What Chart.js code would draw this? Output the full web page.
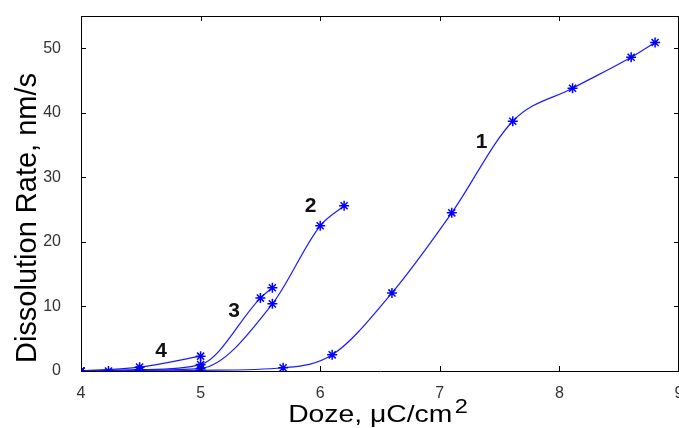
<!DOCTYPE html>
<html>
<head>
<meta charset="utf-8">
<script src="https://cdn.jsdelivr.net/npm/chart.js@4/dist/chart.umd.min.js"></script>
<style>
  html, body { margin: 0; padding: 0; background: #fff; }
  #wrap { width: 679px; height: 428px; }
</style>
</head>
<body>
<div id="wrap"><canvas id="c" width="679" height="428"></canvas></div>
<script>
// curve data (doze, rate)
var doze1 = [4, 4.23, 4.49, 5, 5.69, 6.1, 6.6, 7.1, 7.61, 8.11, 8.6, 8.8];
var rate1 = [0, 0, 0, 0.1, 0.5, 2.5, 12.1, 24.5, 38.7, 43.8, 48.6, 50.9];
var doze2 = [4, 4.49, 5, 5.6, 6.0, 6.2];
var rate2 = [0, 0.1, 0.4, 10.4, 22.5, 25.6];
var doze3 = [4, 4.49, 5, 5.5, 5.6];
var rate3 = [0, 0.2, 1.0, 11.3, 12.9];
var doze4 = [4, 4.49, 5];
var rate4 = [0, 0.6, 2.3];

// curve numbers and where they sit
var curveNames = ["1", "2", "3", "4"];
var nameX = [7.35, 5.92, 5.28, 4.67];
var nameY = [35.4, 25.5, 9.2, 3.1];

var xTicks = [4, 5, 6, 7, 8, 9];
var yTicks = [0, 10, 20, 30, 40, 50];

var FONT = "'Liberation Sans', Arial, sans-serif";

function pts(xs, ys) {
  return xs.map(function(x, i) { return { x: x, y: ys[i] }; });
}

function series(xs, ys) {
  return {
    data: pts(xs, ys),
    borderColor: "#1a1aff",
    backgroundColor: "#0000ff",
    borderWidth: 1.2,
    pointStyle: "star",
    pointRadius: 5,
    pointBorderWidth: 1.5,
    pointBorderColor: "#0000ff",
    cubicInterpolationMode: "monotone",
    fill: false
  };
}

// inward ticks, top/right frame, axis titles, curve numbers
var framePlugin = {
  id: "frame",
  afterDraw: function(chart) {
    var ctx = chart.ctx, a = chart.chartArea;
    var xs = chart.scales.x, ys = chart.scales.y;
    ctx.save();
    ctx.strokeStyle = "#000";
    ctx.lineWidth = 1;
    ctx.beginPath();
    ctx.moveTo(a.left, a.top + 0.5);
    ctx.lineTo(a.right, a.top + 0.5);
    ctx.moveTo(a.right - 0.5, a.top);
    ctx.lineTo(a.right - 0.5, a.bottom);
    xTicks.forEach(function(v) {
      var px = Math.round(xs.getPixelForValue(v)) + 0.5;
      ctx.moveTo(px, a.bottom); ctx.lineTo(px, a.bottom - 5);
      ctx.moveTo(px, a.top); ctx.lineTo(px, a.top + 5);
    });
    yTicks.forEach(function(v) {
      var py = Math.round(ys.getPixelForValue(v)) + 0.5;
      ctx.moveTo(a.left, py); ctx.lineTo(a.left + 5, py);
      ctx.moveTo(a.right, py); ctx.lineTo(a.right - 5, py);
    });
    ctx.stroke();

    // curve numbers
    ctx.fillStyle = "#111";
    ctx.font = "bold 21px " + FONT;
    ctx.textAlign = "center";
    ctx.textBaseline = "middle";
    curveNames.forEach(function(n, i) {
      ctx.fillText(n, xs.getPixelForValue(nameX[i]), ys.getPixelForValue(nameY[i]));
    });

    // x title with superscript, a little stretched sideways
    ctx.fillStyle = "#000";
    ctx.textBaseline = "alphabetic";
    ctx.textAlign = "left";
    var main = "Doze, \u03bcC/cm", sup = "2";
    var sx = 1.18;
    ctx.font = "24px " + FONT;
    var w1 = ctx.measureText(main).width;
    ctx.font = "20px " + FONT;
    var w2 = ctx.measureText(sup).width;
    var total = (w1 + w2 + 2) * sx;
    ctx.save();
    ctx.translate(378 - total / 2, 422);
    ctx.scale(sx, 1);
    ctx.font = "24px " + FONT;
    ctx.fillText(main, 0, 0);
    ctx.font = "20px " + FONT;
    ctx.fillText(sup, w1 + 2, -9);
    ctx.restore();

    // y title
    ctx.font = "29px " + FONT;
    ctx.translate(36, 218);
    ctx.rotate(-Math.PI / 2);
    ctx.textAlign = "center";
    ctx.fillText("Dissolution Rate, nm/s", 0, 0);
    ctx.restore();
  }
};

new Chart(document.getElementById("c"), {
  type: "line",
  data: {
    datasets: [
      series(doze1, rate1),
      series(doze2, rate2),
      series(doze3, rate3),
      series(doze4, rate4)
    ]
  },
  options: {
    responsive: false,
    animation: false,
    layout: { autoPadding: false, padding: { top: 16, right: 0, left: 0, bottom: 0 } },
    plugins: { legend: { display: false }, tooltip: { enabled: false } },
    scales: {
      x: {
        type: "linear",
        min: 4,
        max: 9,
        grid: { display: false },
        border: { display: true, color: "#000", width: 1 },
        ticks: {
          stepSize: 1,
          color: "#333",
          padding: 5,
          font: { family: FONT, size: 16 }
        },
        afterFit: function(s) { s.height = 57; s.paddingLeft = 0; s.paddingRight = 0; }
      },
      y: {
        type: "linear",
        min: 0,
        max: 55,
        grid: { display: false },
        border: { display: true, color: "#000", width: 1 },
        afterBuildTicks: function(s) {
          s.ticks = yTicks.map(function(v) { return { value: v }; });
        },
        ticks: {
          color: "#333",
          padding: 12,
          font: { family: FONT, size: 16 }
        },
        afterFit: function(s) { s.width = 81; s.paddingTop = 0; s.paddingBottom = 0; }
      }
    }
  },
  plugins: [framePlugin]
});
</script>
</body>
</html>
